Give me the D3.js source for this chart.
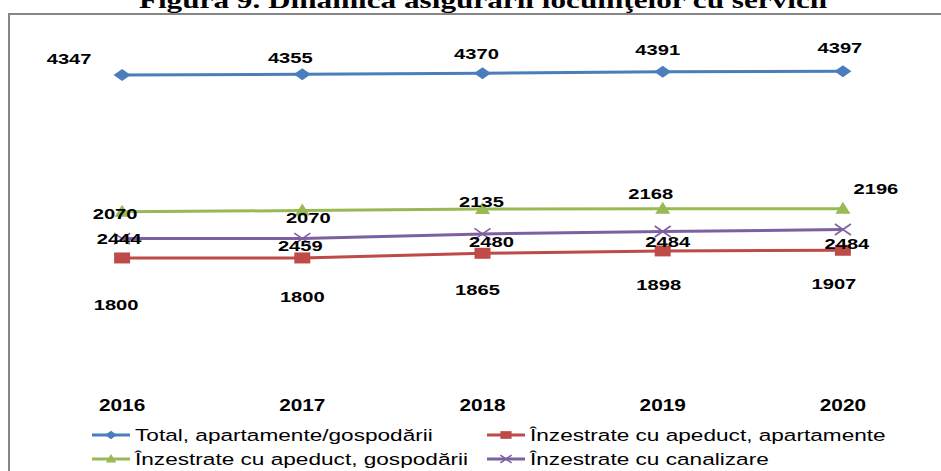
<!DOCTYPE html>
<html>
<head>
<meta charset="utf-8">
<script src="https://cdn.jsdelivr.net/npm/d3@7"></script>
<style>
  body { margin: 0; background: #fff; }
  svg { display: block; }
</style>
</head>
<body>
<div class="chart"></div>
<script>
// chart values
const years = ['2016', '2017', '2018', '2019', '2020']
const totalValues = [4347, 4355, 4370, 4391, 4397]
const apeductApartValues = [1800, 1800, 1865, 1898, 1907]
const apeductGospValues = [2070, 2070, 2135, 2168, 2196]
const canalizareValues = [2444, 2459, 2480, 2484, 2484]

const seriesNames = [
  'Total, apartamente/gospodării',
  'Înzestrate cu apeduct, apartamente',
  'Înzestrate cu apeduct, gospodării',
  'Înzestrate cu canalizare',
]

const width = 941
const height = 471
const textStretch = 1.3

// in the original figure the green and purple lines carry each other's labels,
// so each series has the values it is plotted at and the values it shows
const series = [
  { name: seriesNames[0], color: '#4a7ebb', marker: 'diamond', plotted: totalValues, shown: totalValues,
    off: [[-53, -17], [-12, -17], [-6, -20], [-5, -22], [-3, -24]] },
  { name: seriesNames[1], color: '#be4b48', marker: 'square', plotted: apeductApartValues, shown: apeductApartValues,
    off: [[-6, 46], [0, 38], [-5, 36], [-4, 33], [-9, 33]] },
  { name: seriesNames[2], color: '#98b954', marker: 'triangle', plotted: canalizareValues, shown: apeductGospValues,
    off: [[-7, 2], [6, 7], [-1, -8], [-12, -15], [33, -20]] },
  { name: seriesNames[3], color: '#7d60a0', marker: 'cross', plotted: apeductGospValues, shown: canalizareValues,
    off: [[-3, 0], [-2, 7], [9, 8], [5, 10], [4, 14]] },
]

const markerPath = (type, s = 1) => {
  if (type === 'diamond') return `M${-8.5 * s},0L0,${-6 * s}L${8.5 * s},0L0,${6 * s}Z`
  if (type === 'square') return `M${-8 * s},${-5.5 * s}H${8 * s}V${5.5 * s}H${-8 * s}Z`
  if (type === 'triangle') return `M0,${-7 * s}L${7.5 * s},${5 * s}H${-7.5 * s}Z`
  return `M${-8 * s},${-5.5 * s}L${8 * s},${5.5 * s}M${-8 * s},${5.5 * s}L${8 * s},${-5.5 * s}`
}

const svg = d3
  .select('.chart')
  .append('svg')
  .attr('width', width)
  .attr('height', height)

// title, cut off by the top of the picture just like in the reference
svg
  .append('text')
  .attr('transform', `translate(483,8) scale(${textStretch},1)`)
  .attr('text-anchor', 'middle')
  .attr('font-family', '"Liberation Serif", "Times New Roman", serif')
  .attr('font-weight', 'bold')
  .attr('font-size', 24)
  .text('Figura 9. Dinamica asigurării locuinţelor cu servicii')

// chart frame
svg
  .append('path')
  .attr('d', `M9,${height}V14H${width}`)
  .attr('fill', 'none')
  .attr('stroke', '#868686')
  .attr('stroke-width', 2)

const x = d3.scalePoint().domain(years).range([32, 933]).padding(0.5)
const y = d3.scaleLinear().domain([0, 5000]).range([387.3, 28])

const line = d3
  .line()
  .x((d, i) => x(years[i]))
  .y(d => y(d))

const stretchedText = (sel, px, py, txt, size, weight) =>
  sel
    .append('text')
    .attr('transform', `translate(${px},${py}) scale(${textStretch},1)`)
    .attr('text-anchor', 'middle')
    .attr('dy', '0.36em')
    .attr('font-family', '"Liberation Sans", Arial, sans-serif')
    .attr('font-weight', weight)
    .attr('font-size', size)
    .attr('fill', '#000')
    .text(txt)

// category labels
const axis = svg.append('g')
years.forEach(yr => stretchedText(axis, x(yr), 405, yr, 16, 'bold'))

const drawMarker = (g, type, color, px, py, s) => {
  g.append('path')
    .attr('transform', `translate(${px},${py})`)
    .attr('d', markerPath(type, s))
    .attr('fill', type === 'cross' ? 'none' : color)
    .attr('stroke', color)
    .attr('stroke-width', type === 'cross' ? 1.6 : 0)
}

series.forEach(s => {
  const g = svg.append('g')
  g.append('path')
    .attr('d', line(s.plotted))
    .attr('fill', 'none')
    .attr('stroke', s.color)
    .attr('stroke-width', 3)
  s.plotted.forEach((v, i) => drawMarker(g, s.marker, s.color, x(years[i]), y(v), 1))
})

// data labels drawn after all lines, as in the original
series.forEach(s => {
  const g = svg.append('g')
  s.plotted.forEach((v, i) => {
    stretchedText(g, x(years[i]) + s.off[i][0], y(v) + s.off[i][1], s.shown[i], 15.5, 'bold')
  })
})

// legend
const legendPos = [[92, 435], [487, 435], [92, 459], [487, 459]]
series.forEach((s, i) => {
  const [lx, ly] = legendPos[i]
  const g = svg.append('g')
  g.append('line')
    .attr('x1', lx)
    .attr('x2', lx + 38)
    .attr('y1', ly)
    .attr('y2', ly)
    .attr('stroke', s.color)
    .attr('stroke-width', 3)
  drawMarker(g, s.marker, s.color, lx + 19, ly, 0.7)
  g.append('text')
    .attr('transform', `translate(${lx + 43},${ly}) scale(1.33,1)`)
    .attr('dy', '0.36em')
    .attr('font-family', '"Liberation Sans", Arial, sans-serif')
    .attr('font-size', 17)
    .text(s.name)
})
</script>
</body>
</html>
